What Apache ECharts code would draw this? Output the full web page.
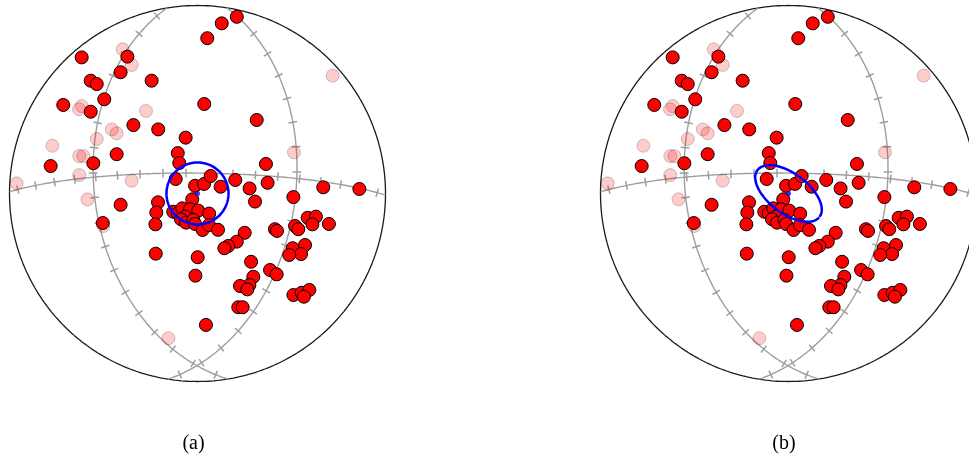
<!DOCTYPE html>
<html><head><meta charset="utf-8">
<script src="https://cdn.jsdelivr.net/npm/echarts@6/dist/echarts.min.js"></script>
<style>html,body{margin:0;padding:0;background:#fff;overflow:hidden;width:969px;height:456px}#c{width:990px;height:456px}</style>
</head><body><div id="c"></div>
<script>
// Equal-area net coordinates, in % of the net radius (East, North)
// lower-hemisphere poles
const poleX = [-61.6,-37.3,-40.9,-56.8,-53.6,-24.4,-49.6,-71.4,-56.8,-34.1,-20.9,-6.3,-10.5,-9.7,-43.0,-55.4,-78.1,-11.6,-1.3,3.5,7.0,12.3,20.1,27.7,36.4,37.3,66.9,86.1,51.0,30.6,20.9,12.9,5.2,3.6,31.5,-2.8,-21.0,-21.9,-22.4,-40.9,-50.4,-22.2,0.1,-1.1,-12.9,-10.5,-8.1,-4.0,0.4,6.2,-6.6,-8.8,-6.1,-2.2,-1.3,2.7,6.1,10.9,25.1,20.9,16.4,14.3,28.5,38.6,42.1,29.7,27.6,22.6,26.5,21.7,24.0,4.5,41.2,42.3,51.9,53.6,58.6,63.0,61.1,69.9,50.6,57.2,55.1,48.8,51.0,55.4,59.5,56.6];
const poleY = [72.4,72.8,64.5,60.0,58.2,60.0,50.1,47.1,43.5,36.4,34.1,29.7,21.5,16.2,20.9,16.1,14.6,7.7,4.1,5.1,9.3,3.6,7.2,2.7,15.7,5.7,3.3,2.4,-1.9,-4.3,94.0,90.5,82.6,47.6,39.1,-3.1,-4.7,-10.1,-16.4,-6.0,-15.7,-32.0,-33.9,-43.7,-9.7,-10.5,-7.9,-8.4,-9.1,-10.7,-12.3,-13.7,-15.5,-14.1,-16.2,-19.4,-16.8,-19.3,-20.9,-25.6,-27.9,-29.1,-36.3,-40.7,-43.0,-44.3,-48.7,-49.2,-51.0,-60.5,-60.5,-69.9,-19.0,-19.9,-17.3,-19.0,-12.9,-12.3,-16.4,-16.2,-29.1,-27.4,-32.2,-32.7,-54.0,-52.8,-51.3,-54.9];
// upper-hemisphere poles (faded)
const upperX = [-39.8,-35.0,-61.6,-63.0,-27.4,-45.6,-43.0,-53.6,-77.2,-62.9,-60.7,-62.9,-35.0,-96.2,-58.5,-50.1,-15.5,71.9,51.3];
const upperY = [76.7,68.4,46.5,44.8,43.9,34.1,32.0,29.0,25.4,19.9,19.9,9.8,6.8,5.4,-3.1,-17.3,-77.0,62.7,21.9];
// reference planes (dip direction, dip, degrees) with ticks every 10 degrees
const planeDipDir = [0.5, 260.7, 99];
const planeDip = [81.2, 44.7, 47];
const tickAngles = [5,15,25,35,45,55,65,75,85,95,105,115,125,135,145,155,165,175];
// mean direction and confidence cones per panel
const meanX = [0, 0];
const meanY = [0, 0];
const coneSemiMajor = [16.5, 20.7];
const coneSemiMinor = [16.5, 10.6];
const coneRotation = [0, -37];
const panelLabels = ['(a)', '(b)'];

const D = Math.PI/180;
function project(trend, plunge){
  const r = Math.SQRT2*Math.sin((90-plunge)/2*D)*100;
  return [r*Math.sin(trend*D), r*Math.cos(trend*D)];
}
function gcPoint(dd, dip, phi){
  const s = dd-90;
  const h = [Math.cos(s*D), Math.sin(s*D), 0];
  const d = [Math.cos(dip*D)*Math.cos(dd*D), Math.cos(dip*D)*Math.sin(dd*D), Math.sin(dip*D)];
  const c = Math.cos(phi*D), sn = Math.sin(phi*D);
  const v = [c*h[0]+sn*d[0], c*h[1]+sn*d[1], c*h[2]+sn*d[2]];
  const pl = Math.asin(Math.max(-1,Math.min(1,v[2])))/D;
  const tr = Math.atan2(v[1], v[0])/D;
  return project(tr, pl);
}
const circle = [];
for (let a=0;a<=360;a++) circle.push([100*Math.cos(a*D),100*Math.sin(a*D)]);
const planes = planeDipDir.map((dd,i)=>{const pts=[];for(let p=0;p<=180;p+=1)pts.push(gcPoint(dd,planeDip[i],p));return pts;});
const ticks = [];
planeDipDir.forEach((dd,i)=>{
  tickAngles.forEach(phi=>{
    const p = gcPoint(dd,planeDip[i],phi), a=gcPoint(dd,planeDip[i],phi-0.5), b=gcPoint(dd,planeDip[i],phi+0.5);
    let tx=b[0]-a[0], ty=b[1]-a[1]; const L=Math.hypot(tx,ty); tx/=L; ty/=L;
    const nx=-ty, ny=tx, hl=2.3;
    ticks.push({coords:[[p[0]-nx*hl,p[1]-ny*hl],[p[0]+nx*hl,p[1]+ny*hl]]});
  });
});
function cone(k){
  const pts=[]; const r=coneRotation[k]*D;
  for(let a=0;a<=360;a+=2){
    const u=coneSemiMajor[k]*Math.cos(a*D), w=coneSemiMinor[k]*Math.sin(a*D);
    pts.push([meanX[k]+u*Math.cos(r)-w*Math.sin(r), meanY[k]+u*Math.sin(r)+w*Math.cos(r)]);
  }
  return pts;
}
const lower = poleX.map((x,i)=>[x,poleY[i]]);
const upper = upperX.map((x,i)=>[x,upperY[i]]);

const grids=[], xAxes=[], yAxes=[], series=[], graphics=[];
const lefts=[9.5, 600.5];
[0,1].forEach(k=>{
  grids.push({left:lefts[k], top:5.5, width:376, height:376});
  xAxes.push({type:'value', gridIndex:k, min:-100, max:100, show:false});
  yAxes.push({type:'value', gridIndex:k, min:-100, max:100, show:false});
  const ax={xAxisIndex:k, yAxisIndex:k};
  series.push(Object.assign({type:'line', data:circle, symbol:'none', clip:false, silent:true, z:1,
    lineStyle:{color:'#1a1a1a', width:1.3}},ax));
  planes.forEach(pts=>series.push(Object.assign({type:'line', data:pts, symbol:'none', clip:false, silent:true, z:2,
    lineStyle:{color:'#9e9e9e', width:1.4}},ax)));
  series.push(Object.assign({type:'lines', coordinateSystem:'cartesian2d', data:ticks, silent:true, z:2,
    lineStyle:{color:'#9e9e9e', width:1.5, opacity:1}},ax));
  series.push(Object.assign({type:'scatter', data:upper, symbolSize:13, silent:true, z:3,
    itemStyle:{color:'#ff0000', borderColor:'#000', borderWidth:1, opacity:0.2}},ax));
  series.push(Object.assign({type:'scatter', data:lower, symbolSize:13, silent:true, z:4,
    itemStyle:{color:'#ff0000', borderColor:'#000', borderWidth:1, opacity:1}},ax));
  series.push(Object.assign({type:'line', data:cone(k), symbol:'none', clip:false, silent:true, z:5,
    lineStyle:{color:'#0000ff', width:2.5}},ax));
  series.push(Object.assign({type:'scatter', data:[[meanX[k],meanY[k]]], symbolSize:5, silent:true, z:6,
    itemStyle:{color:'#0000ff'}},ax));
  graphics.push({type:'text', x:[193.5,784][k], y:444, style:{text:panelLabels[k], fill:'#000',
    font:'20px "Liberation Serif", "DejaVu Serif", serif', textAlign:'center', textVerticalAlign:'middle'}});
});
const chart = echarts.init(document.getElementById('c'));
chart.setOption({animation:false, backgroundColor:'#fff', grid:grids, xAxis:xAxes, yAxis:yAxes, series:series, graphic:graphics});
</script></body></html>
